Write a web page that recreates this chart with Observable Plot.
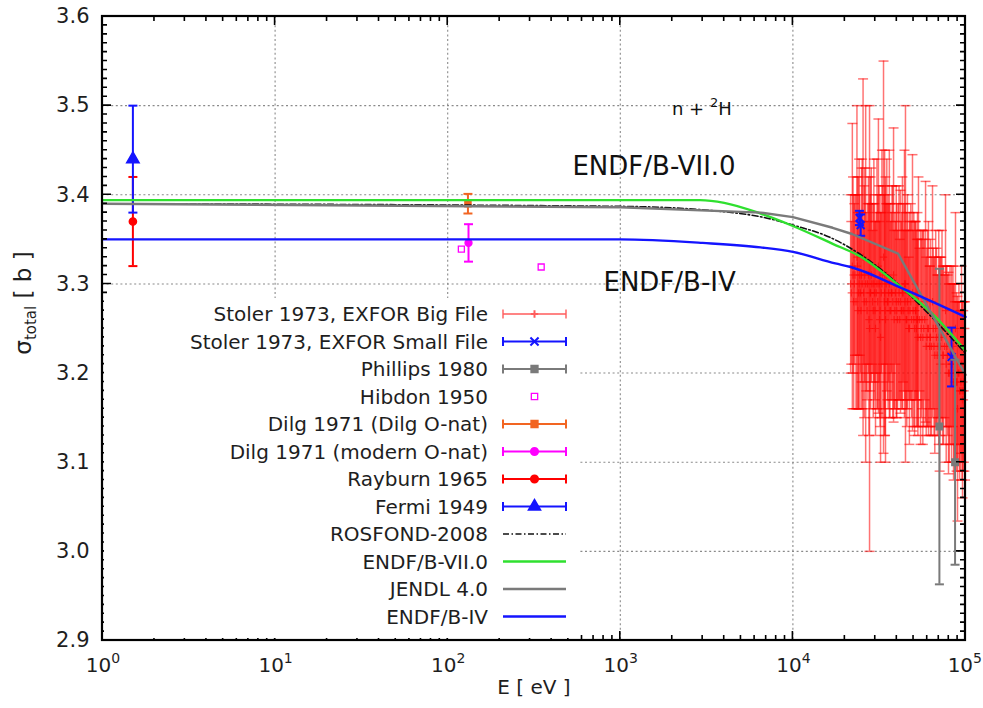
<!DOCTYPE html>
<html>
<head>
<meta charset="utf-8">
<script src="https://cdn.jsdelivr.net/npm/d3@7"></script>
<script src="https://cdn.jsdelivr.net/npm/@observablehq/plot@0.6"></script>
<style>
  html, body { margin: 0; padding: 0; background: #fff; }
  #chart { width: 983px; height: 708px; }
</style>
</head>
<body>
<div id="chart"></div>
<script>
// n + 2H total cross section between 1 eV and 100 keV: measurements and evaluations.

// Stoler 1973, EXFOR "big" file (E in eV, sigma and error in barn)
const stolerBigE = [21600, 21800, 22100, 22300, 22500, 22700, 22900, 23200, 23500, 23650,
  23800, 24000, 24200, 24400, 24600, 24800, 25000, 25200, 25500, 25700,
  25900, 26100, 26400, 26600, 26900, 27100, 27400, 27600, 27800, 28000,
  28200, 28450, 28700, 28950, 29200, 29450, 29700, 29900, 30100, 30400,
  30700, 31000, 31300, 31550, 31800, 32000, 32200, 32500, 32800, 33100,
  33500, 33800, 34000, 34200, 34400, 34700, 35000, 35300, 35600, 35900,
  36200, 36500, 36900, 37200, 37500, 37900, 38300, 38600, 39000, 39300,
  39700, 40000, 40400, 40800, 41200, 41600, 42000, 42400, 42800, 43100,
  43500, 43900, 44300, 44600, 44900, 45300, 45700, 46100, 46500, 46900,
  47300, 47700, 48200, 48700, 49300, 49700, 50200, 50700, 51200, 51600,
  52000, 52300, 52700, 53000, 53400, 54100, 54900, 55400, 56000, 56600,
  57300, 58000, 58700, 59200, 59800, 60400, 61000, 61900, 62300, 62700,
  63500, 64400, 65000, 65700, 66400, 67200, 67900, 68600, 69300, 70000,
  70800, 71600, 72300, 73100, 73800, 74600, 75600, 76600, 77300, 78000,
  78800, 79700, 80500, 81300, 82100, 83000, 83800, 84600, 85300, 86000,
  87000, 87500, 88800, 89300, 89900, 90700, 91600, 92400, 93200, 94000,
  94800, 95500, 96100, 97000, 97800, 98600, 99400];
const stolerBigSigma = [3.30, 3.29, 3.32, 3.31, 3.28, 3.30, 3.31, 3.28, 3.33, 3.32,
  3.27, 3.29, 3.30, 3.31, 3.29, 3.27, 3.31, 3.30, 3.33, 3.29,
  3.28, 3.31, 3.30, 3.28, 3.27, 3.30, 3.31, 3.26, 3.25, 3.29,
  3.29, 3.31, 3.30, 3.28, 3.27, 3.30, 3.29, 3.27, 3.25, 3.29,
  3.30, 3.28, 3.32, 3.30, 3.26, 3.27, 3.24, 3.29, 3.30, 3.31,
  3.33, 3.28, 3.29, 3.27, 3.26, 3.30, 3.31, 3.28, 3.28, 3.29,
  3.30, 3.27, 3.27, 3.29, 3.29, 3.28, 3.31, 3.26, 3.27, 3.29,
  3.28, 3.27, 3.26, 3.28, 3.29, 3.26, 3.28, 3.27, 3.27, 3.29,
  3.29, 3.27, 3.30, 3.28, 3.30, 3.26, 3.26, 3.28, 3.27, 3.25,
  3.25, 3.27, 3.28, 3.26, 3.29, 3.27, 3.26, 3.25, 3.27, 3.27,
  3.25, 3.26, 3.26, 3.24, 3.28, 3.26, 3.24, 3.25, 3.26, 3.24,
  3.25, 3.26, 3.28, 3.23, 3.24, 3.25, 3.25, 3.23, 3.24, 3.24,
  3.23, 3.28, 3.25, 3.23, 3.22, 3.25, 3.24, 3.22, 3.23, 3.24,
  3.21, 3.23, 3.24, 3.25, 3.22, 3.22, 3.23, 3.27, 3.21, 3.23,
  3.22, 3.20, 3.20, 3.22, 3.22, 3.21, 3.21, 3.23, 3.19, 3.20,
  3.20, 3.25, 3.19, 3.19, 3.16, 3.20, 3.20, 3.18, 3.18, 3.19,
  3.21, 3.18, 3.17, 3.18, 3.19, 3.17, 3.18];
const stolerBigErr = [0.10, 0.08, 0.16, 0.11, 0.12, 0.09, 0.09, 0.12, 0.17, 0.10,
  0.11, 0.13, 0.14, 0.09, 0.09, 0.11, 0.12, 0.14, 0.20, 0.08,
  0.13, 0.12, 0.20, 0.10, 0.10, 0.09, 0.11, 0.13, 0.25, 0.11,
  0.13, 0.12, 0.09, 0.08, 0.12, 0.14, 0.10, 0.10, 0.12, 0.09,
  0.14, 0.12, 0.165, 0.11, 0.11, 0.13, 0.14, 0.09, 0.15, 0.10,
  0.22, 0.12, 0.16, 0.14, 0.16, 0.09, 0.13, 0.11, 0.12, 0.10,
  0.15, 0.12, 0.10, 0.09, 0.12, 0.13, 0.165, 0.10, 0.11, 0.08,
  0.13, 0.12, 0.10, 0.11, 0.12, 0.09, 0.125, 0.10, 0.11, 0.13,
  0.10, 0.09, 0.15, 0.11, 0.20, 0.10, 0.12, 0.12, 0.09, 0.08,
  0.13, 0.10, 0.11, 0.11, 0.155, 0.09, 0.12, 0.12, 0.10, 0.10,
  0.11, 0.09, 0.12, 0.11, 0.14, 0.08, 0.12, 0.10, 0.10, 0.12,
  0.11, 0.09, 0.135, 0.10, 0.10, 0.11, 0.12, 0.09, 0.08, 0.11,
  0.10, 0.13, 0.09, 0.10, 0.11, 0.11, 0.10, 0.09, 0.08, 0.12,
  0.12, 0.10, 0.09, 0.11, 0.10, 0.10, 0.08, 0.13, 0.11, 0.09,
  0.09, 0.113, 0.10, 0.10, 0.08, 0.11, 0.09, 0.09, 0.11, 0.10,
  0.08, 0.13, 0.10, 0.09, 0.126, 0.08, 0.10, 0.10, 0.09, 0.08,
  0.11, 0.10, 0.11, 0.09, 0.09, 0.08, 0.10];

// Stoler 1973, EXFOR "small" file
const stolerSmallE = [24300, 24700, 83000];
const stolerSmallSigma = [3.374, 3.366, 3.218];
const stolerSmallErr = [0.008, 0.012, 0.033];

// Phillips 1980
const phillipsE = [70600, 87000];
const phillipsSigma = [3.140, 3.100];
const phillipsErr = [0.177, 0.115];

// Hibdon 1950 (no uncertainties)
const hibdonE = [120, 348];
const hibdonSigma = [3.339, 3.319];

// Dilg 1971, Dilg and modern oxygen normalisation
const dilgE = [131];
const dilgSigma = [3.390];
const dilgErr = [0.011];
const dilgModernE = [132];
const dilgModernSigma = [3.346];
const dilgModernErr = [0.021];

// Rayburn 1965 and Fermi 1949
const rayburnE = [1.5];
const rayburnSigma = [3.370];
const rayburnErr = [0.050];
const fermiE = [1.5];
const fermiSigma = [3.440];
const fermiErr = [0.060];

// Evaluated libraries
const rosfondE = [1, 1000, 4000, 7000, 10000, 16500, 34000, 60000, 100000];
const rosfondSigma = [3.390, 3.387, 3.381, 3.374, 3.366, 3.352, 3.313, 3.268, 3.222];
const endf7E = [1, 2900, 4000, 6500, 10000, 17000, 25000, 39000, 67000, 100000];
const endf7Sigma = [3.394, 3.394, 3.391, 3.379, 3.365, 3.345, 3.330, 3.302, 3.263, 3.225];
const jendlE = [1, 1000, 6500, 10000, 17000, 22000, 40700, 100000];
const jendlSigma = [3.390, 3.386, 3.380, 3.375, 3.363, 3.356, 3.334, 3.198];
const endf4E = [1, 1000, 3000, 6500, 10000, 17600, 21600, 43000, 100000];
const endf4Sigma = [3.350, 3.350, 3.346, 3.341, 3.336, 3.323, 3.319, 3.295, 3.263];

// Axis ticks and labels
const xDecades = [1, 10, 100, 1000, 10000, 100000];
const xExponents = ["0", "1", "2", "3", "4", "5"];
const yTicks = [2.9, 3.0, 3.1, 3.2, 3.3, 3.4, 3.5, 3.6];

const legendLabels = [
  "Stoler 1973, EXFOR Big File",
  "Stoler 1973, EXFOR Small File",
  "Phillips 1980",
  "Hibdon 1950",
  "Dilg 1971 (Dilg O-nat)",
  "Dilg 1971 (modern O-nat)",
  "Rayburn 1965",
  "Fermi 1949",
  "ROSFOND-2008",
  "ENDF/B-VII.0",
  "JENDL 4.0",
  "ENDF/B-IV"
];

const C = {
  red: "#ff0000",
  blue: "#1414ff",
  gray: "#7a7a7a",
  magenta: "#ff00ff",
  orange: "#f26522",
  green: "#2fe02f",
  black: "#111111"
};

const legendStyles = [
  {color: "#ff5c5c", bars: true, marker: "plus", width: 1.4},
  {color: C.blue, bars: true, marker: "times", width: 2},
  {color: C.gray, bars: true, marker: "square", width: 2},
  {color: C.magenta, bars: false, marker: "hollowSquare"},
  {color: C.orange, bars: true, marker: "square", width: 2},
  {color: C.magenta, bars: true, marker: "circle", width: 2},
  {color: C.red, bars: true, marker: "circle", width: 2},
  {color: C.blue, bars: true, marker: "triangle", width: 2},
  {color: C.black, line: true, dash: "6,2.5,1.5,2.5", width: 1.6},
  {color: C.green, line: true, width: 2.4},
  {color: C.gray, line: true, width: 2.4},
  {color: C.blue, line: true, width: 2.4}
];

// Horizontal cap drawn at fixed pixel width, regardless of the log scale
const capSymbol = {
  draw(context, size) {
    const r = Math.sqrt(size / Math.PI);
    context.moveTo(-r, 0);
    context.lineTo(r, 0);
  }
};

function table(E, S, Err) {
  return E.map((e, i) => ({E: e, s: S[i], lo: Err ? S[i] - Err[i] : S[i], hi: Err ? S[i] + Err[i] : S[i]}));
}

function errorBars(rows, {stroke, strokeWidth = 1.6, strokeOpacity = 1, cap = 4.5}) {
  const style = {stroke, strokeWidth, strokeOpacity};
  return [
    Plot.ruleX(rows, {x: "E", y1: "lo", y2: "hi", ...style}),
    Plot.dot(rows, {x: "E", y: "lo", symbol: capSymbol, r: cap, fill: "none", ...style}),
    Plot.dot(rows, {x: "E", y: "hi", symbol: capSymbol, r: cap, fill: "none", ...style})
  ];
}

const stolerBig = table(stolerBigE, stolerBigSigma, stolerBigErr);
const stolerSmall = table(stolerSmallE, stolerSmallSigma, stolerSmallErr);
const phillips = table(phillipsE, phillipsSigma, phillipsErr);
const hibdon = table(hibdonE, hibdonSigma);
const dilg = table(dilgE, dilgSigma, dilgErr);
const dilgModern = table(dilgModernE, dilgModernSigma, dilgModernErr);
const rayburn = table(rayburnE, rayburnSigma, rayburnErr);
const fermi = table(fermiE, fermiSigma, fermiErr);

const curve = (E, S) => E.map((e, i) => ({E: e, s: S[i]}));

// Frame with inward major/minor ticks on all four sides
function frameMark(index, scales, values, dim) {
  const x = scales.x, y = scales.y;
  const L = dim.marginLeft, R = dim.width - dim.marginRight;
  const T = dim.marginTop, B = dim.height - dim.marginBottom;
  const g = d3.create("svg:g").attr("fill", "none").attr("stroke", "#000");
  const ticks = g.append("g").attr("stroke-width", 1.6);
  const path = d3.path();
  for (const d of xDecades) {
    const px = x(d);
    path.moveTo(px, B); path.lineTo(px, B - 9);
    path.moveTo(px, T); path.lineTo(px, T + 9);
    if (d < 100000) {
      for (let k = 2; k <= 9; k++) {
        const mx = x(d * k);
        path.moveTo(mx, B); path.lineTo(mx, B - 5);
        path.moveTo(mx, T); path.lineTo(mx, T + 5);
      }
    }
  }
  for (let j = 0; j < yTicks.length; j++) {
    const v = yTicks[j];
    const py = y(v);
    path.moveTo(L, py); path.lineTo(L + 9, py);
    path.moveTo(R, py); path.lineTo(R - 9, py);
    if (j < yTicks.length - 1) {
      for (let k = 1; k < 10; k++) {
        const my = y(v + k * 0.01);
        path.moveTo(L, my); path.lineTo(L + 5, my);
        path.moveTo(R, my); path.lineTo(R - 5, my);
      }
    }
  }
  ticks.append("path").attr("d", path.toString());
  g.append("rect").attr("x", L).attr("y", T).attr("width", R - L).attr("height", B - T)
    .attr("stroke-width", 2.2);
  return g.node();
}

// Decade labels 10^n under the bottom axis; the last one is kept inside the page
function xTickLabels(index, scales, values, dim) {
  const g = d3.create("svg:g").attr("fill", "#1e1e1e").attr("font-size", 20);
  const base = dim.height - dim.marginBottom + 32;
  xDecades.forEach((d, i) => {
    const last = i === xDecades.length - 1;
    const t = g.append("text")
      .attr("x", last ? dim.width - 1 : scales.x(d) + 1)
      .attr("y", base)
      .attr("text-anchor", last ? "end" : "middle");
    t.append("tspan").text("10");
    t.append("tspan").attr("font-size", 14).attr("dy", -9).text(xExponents[i]);
  });
  return g.node();
}

// Opaque key box in the lower left of the frame
function legendMark(index, scales, values, dim) {
  const L = dim.marginLeft;
  const g = d3.create("svg:g");
  g.append("rect").attr("x", L + 2).attr("y", 298).attr("width", 578 - L - 2).attr("height", dim.height - dim.marginBottom - 300)
    .attr("fill", "#fff");
  const textRight = 488, s0 = 503, s1 = 566, sm = 534.5;
  legendLabels.forEach((label, i) => {
    const cy = 314 + i * 27.5;
    const st = legendStyles[i];
    g.append("text").attr("x", textRight).attr("y", cy).attr("dy", "0.36em")
      .attr("text-anchor", "end").attr("font-size", 20).attr("fill", "#1e1e1e").text(label);
    const row = g.append("g").attr("stroke", st.color).attr("fill", "none");
    if (st.line) {
      row.append("line").attr("x1", s0).attr("x2", s1).attr("y1", cy).attr("y2", cy)
        .attr("stroke-width", st.width).attr("stroke-dasharray", st.dash || null);
    }
    if (st.bars) {
      row.append("path").attr("stroke-width", st.width)
        .attr("d", `M${s0},${cy}H${s1}M${s0},${cy - 4.5}V${cy + 4.5}M${s1},${cy - 4.5}V${cy + 4.5}`);
    }
    const sym = {
      plus: [d3.symbolPlus, 20, false],
      times: [d3.symbolTimes, 45, false],
      square: [d3.symbolSquare, 40, true],
      hollowSquare: [d3.symbolSquare, 40, false],
      circle: [d3.symbolCircle, 40, true],
      triangle: [d3.symbolTriangle, 55, true]
    }[st.marker];
    if (sym) {
      row.append("path").attr("transform", `translate(${sm},${cy})`)
        .attr("d", d3.symbol(sym[0], sym[1])())
        .attr("fill", sym[2] ? st.color : "none")
        .attr("stroke-width", st.marker === "hollowSquare" ? 1.3 : 2);
    }
  });
  return g.node();
}

// Rotated y label with subscript
function yLabelMark(index, scales, values, dim) {
  const t = d3.create("svg:text")
    .attr("transform", "translate(31,303) rotate(-90)")
    .attr("text-anchor", "middle").attr("font-size", 23).attr("fill", "#1e1e1e");
  t.append("tspan").text("σ");
  t.append("tspan").attr("font-size", 15).attr("dy", 5).text("total");
  t.append("tspan").attr("dy", -5).text(" [ b ]");
  return t.node();
}

// Reaction tag n + 2H with a raised mass number
function reactionTag(index, scales) {
  const t = d3.create("svg:text")
    .attr("x", scales.x(2006)).attr("y", scales.y(3.4967)).attr("dy", "0.36em")
    .attr("text-anchor", "start").attr("font-size", 18).attr("fill", "#111");
  t.append("tspan").text("n + ");
  t.append("tspan").attr("font-size", 13).attr("dy", -8).text("2");
  t.append("tspan").attr("dy", 8).text("H");
  return t.node();
}

const chart = Plot.plot({
  width: 983,
  height: 708,
  marginLeft: 102,
  marginRight: 18,
  marginTop: 16,
  marginBottom: 68,
  style: {fontFamily: "'DejaVu Sans', sans-serif", fontSize: "20px", color: "#1e1e1e", background: "#fff", overflow: "visible"},
  x: {type: "log", domain: [1, 100000], axis: null},
  y: {domain: [2.9, 3.6]},
  marks: [
    Plot.gridY({ticks: [3.0, 3.1, 3.2, 3.3, 3.4, 3.5], stroke: "#8a8a8a", strokeOpacity: 1, strokeWidth: 1.1, strokeDasharray: "2,2.6"}),
    Plot.gridX({ticks: [10, 100, 1000, 10000], stroke: "#8a8a8a", strokeOpacity: 1, strokeWidth: 1.1, strokeDasharray: "2,2.6"}),

    // Measurements, drawn in key order
    ...errorBars(stolerBig, {stroke: C.red, strokeWidth: 1.5, strokeOpacity: 0.55, cap: 5}),
    Plot.dot(stolerBig, {x: "E", y: "s", symbol: "plus", r: 2.5, stroke: C.red, strokeOpacity: 0.6, strokeWidth: 1.2}),
    ...errorBars(stolerSmall, {stroke: C.blue, strokeWidth: 2, cap: 4.5}),
    Plot.dot(stolerSmall, {x: "E", y: "s", symbol: "times", r: 3.6, stroke: C.blue, strokeWidth: 2}),
    ...errorBars(phillips, {stroke: C.gray, strokeWidth: 2, cap: 4.5}),
    Plot.dot(phillips, {x: "E", y: "s", symbol: "square", r: 3.6, fill: C.gray, stroke: C.gray}),
    Plot.dot(hibdon, {x: "E", y: "s", symbol: "square", r: 3.4, fill: "none", stroke: C.magenta, strokeWidth: 1.3}),
    ...errorBars(dilg, {stroke: C.orange, strokeWidth: 2, cap: 4.5}),
    Plot.dot(dilg, {x: "E", y: "s", symbol: "square", r: 3.4, fill: C.orange, stroke: C.orange}),
    ...errorBars(dilgModern, {stroke: C.magenta, strokeWidth: 2, cap: 4.5}),
    Plot.dot(dilgModern, {x: "E", y: "s", symbol: "circle", r: 3.4, fill: C.magenta, stroke: C.magenta}),
    ...errorBars(rayburn, {stroke: C.red, strokeWidth: 2, cap: 4.5}),
    Plot.dot(rayburn, {x: "E", y: "s", symbol: "circle", r: 3.6, fill: C.red, stroke: C.red}),
    ...errorBars(fermi, {stroke: C.blue, strokeWidth: 2, cap: 4.5}),
    Plot.dot(fermi, {x: "E", y: "s", symbol: "triangle", r: 4.6, fill: C.blue, stroke: C.blue}),

    // Evaluations
    Plot.line(curve(rosfondE, rosfondSigma), {x: "E", y: "s", curve: "monotone-x", stroke: C.black, strokeWidth: 1.6, strokeDasharray: "6,2.5,1.5,2.5"}),
    Plot.line(curve(endf7E, endf7Sigma), {x: "E", y: "s", curve: "monotone-x", stroke: C.green, strokeWidth: 2.4}),
    Plot.line(curve(jendlE, jendlSigma), {x: "E", y: "s", curve: "linear", stroke: C.gray, strokeWidth: 2.4}),
    Plot.line(curve(endf4E, endf4Sigma), {x: "E", y: "s", curve: "monotone-x", stroke: C.blue, strokeWidth: 2.4}),

    frameMark,
    legendMark,

    xTickLabels,
    Plot.axisY({ticks: yTicks, tickFormat: (d) => d.toFixed(1), tickSize: 0, tickPadding: 13, fontSize: 21, label: null}),
    Plot.text(["E [ eV ]"], {frameAnchor: "bottom", dy: 53, fontSize: 20, fill: "#1e1e1e"}),
    yLabelMark,

    // Curve labels and reaction tag
    Plot.text(["ENDF/B-VII.0"], {x: 528, y: 3.432, textAnchor: "start", fontSize: 26, fill: "#111"}),
    Plot.text(["ENDF/B-IV"], {x: 799, y: 3.3015, textAnchor: "start", fontSize: 26, fill: "#111"}),
    reactionTag
  ]
});

document.getElementById("chart").append(chart);
</script>
</body>
</html>
